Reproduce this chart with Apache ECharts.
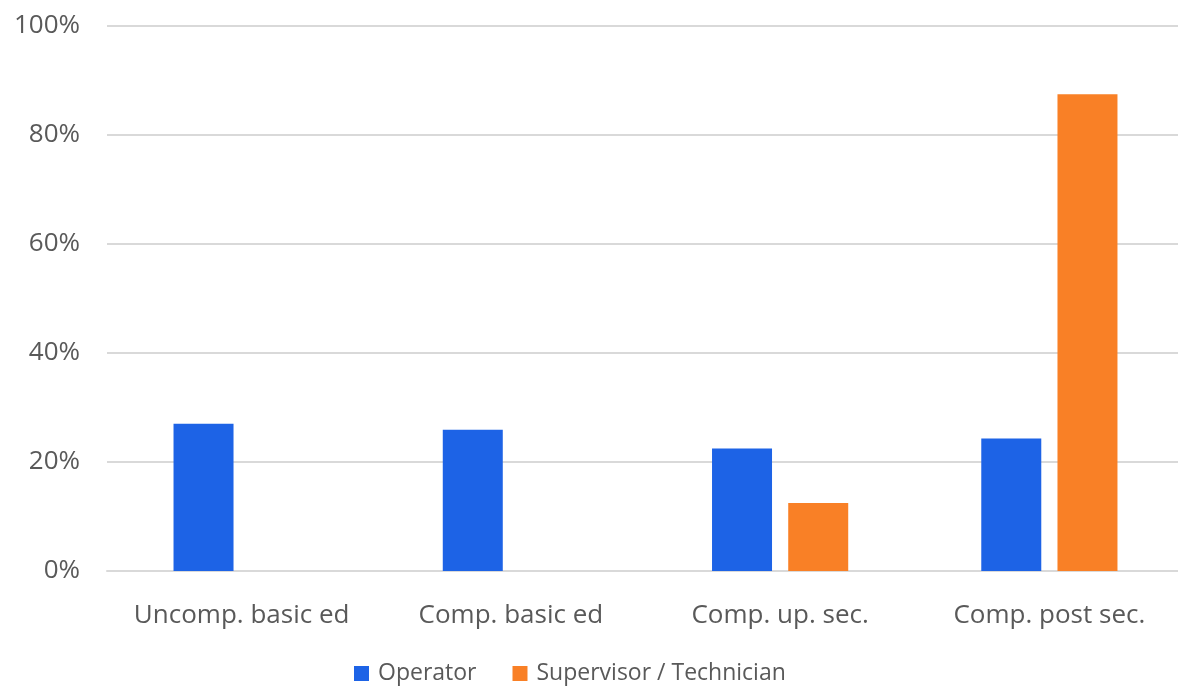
<!DOCTYPE html>
<html>
<head>
<meta charset="utf-8">
<script src="https://cdn.jsdelivr.net/npm/echarts@6/dist/echarts.min.js"></script>
<style>
  html, body { margin: 0; padding: 0; background: #ffffff; overflow: hidden; }
  #chart { width: 1184px; height: 693px; }
</style>
</head>
<body>
<div id="chart"></div>
<script>
// Education level categories
const categories = ['Uncomp. basic ed', 'Comp. basic ed', 'Comp. up. sec.', 'Comp. post sec.'];
// Share of each occupational group (%)
const operatorValues = [27.0, 25.9, 22.5, 24.3];
const supervisorValues = [0, 0, 12.5, 87.5];
const seriesNames = ['Operator', 'Supervisor / Technician'];

const FONT = '"Open Sans", "Noto Sans", sans-serif';
const TEXT = '#595959';

const chart = echarts.init(document.getElementById('chart'), null, { renderer: 'canvas' });
chart.setOption({
  animation: false,
  grid: { left: 107, top: 26, right: 0, height: 545, containLabel: false },
  legend: {
    data: seriesNames,
    bottom: 3,
    left: 349,
    itemWidth: 15,
    itemHeight: 15,
    itemGap: 36,
    icon: 'rect',
    textStyle: { color: TEXT, fontFamily: FONT, fontSize: 23, padding: [0, 0, 0, 4] }
  },
  xAxis: {
    type: 'category',
    data: categories,
    axisLine: { show: true, lineStyle: { color: '#d9d9d9', width: 2 } },
    axisTick: { show: false },
    axisLabel: { color: TEXT, fontFamily: FONT, fontSize: 26, margin: 32, interval: 0 }
  },
  yAxis: {
    type: 'value',
    min: 0,
    max: 100,
    interval: 20,
    axisLine: { show: false },
    axisTick: { show: false },
    splitLine: { lineStyle: { color: '#d9d9d9', width: 2 } },
    axisLabel: { color: TEXT, fontFamily: FONT, fontSize: 26, margin: 27, formatter: '{value}%' }
  },
  series: [
    {
      name: seriesNames[0],
      type: 'bar',
      data: operatorValues,
      barWidth: 60,
      barGap: '27%',
      itemStyle: { color: '#1d63e6' }
    },
    {
      name: seriesNames[1],
      type: 'bar',
      data: supervisorValues,
      barWidth: 60,
      itemStyle: { color: '#f98026' }
    }
  ]
});
</script>
</body>
</html>
